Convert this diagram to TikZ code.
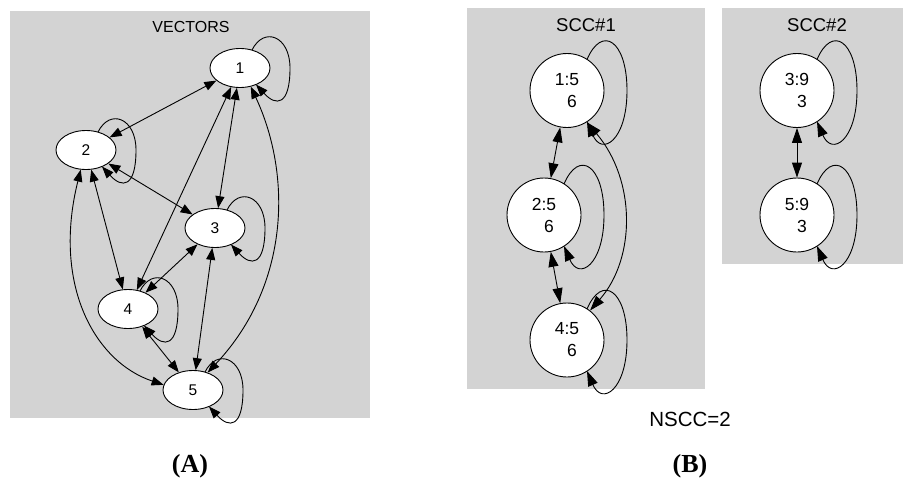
\documentclass[tikz,border=0pt]{standalone}
\usepackage{fontspec}
\setmainfont{Liberation Sans}
\newfontfamily\capfont{Liberation Serif}
\usetikzlibrary{shapes.geometric,arrows.meta,calc}
\definecolor{panelgrey}{RGB}{211,211,211}
\tikzset{
  panel/.style={fill=panelgrey,draw=none},
  vnode/.style={ellipse,draw=black,fill=white,line width=0.9pt,minimum width=60pt,minimum height=39pt,inner sep=0pt,font=\fontsize{15.5}{18}\selectfont},
  snode/.style={circle,draw=black,fill=white,line width=0.9pt,minimum size=74pt,inner sep=0pt,align=center,font=\fontsize{17.5}{22}\selectfont},
  titleA/.style={font=\fontsize{16}{18}\selectfont},
  titleB/.style={font=\fontsize{18.5}{22}\selectfont},
  caption/.style={font=\capfont\bfseries\fontsize{26}{30}\selectfont},
  tipA/.tip={Triangle[length=12pt,width=9pt]},
  tipB/.tip={Triangle[length=15pt,width=10pt]},
  edgeA/.style={line width=0.9pt,tipA-tipA},
  loopA/.style={line width=0.9pt,-tipA},
  edgeB/.style={line width=0.9pt,tipB-tipB},
  loopB/.style={line width=0.9pt,-tipB}
}
\newcommand\selfloopA[1]{\draw[loopA] ([shift={(12,18)}]#1.center) .. controls +(12,24) and +(0,32) .. ([shift={(50,0)}]#1.center) .. controls +(0,-38) and +(20,-22) .. ([shift={(16,-16.5)}]#1.center);}
\newcommand\selfloopB[1]{\draw[loopB] ([shift={(20,31)}]#1.center) .. controls +(15,35) and +(0,50) .. ([shift={(60,0)}]#1.center) .. controls +(0,-50) and +(15,-35) .. ([shift={(20,-31)}]#1.center);}
\begin{document}
\begin{tikzpicture}[x=1pt,y=1pt]
\useasboundingbox (0,0) rectangle (903,-479);
% panels
\fill[panel] (10,-11) rectangle (370,-418);
\fill[panel] (467,-8) rectangle (705,-389);
\fill[panel] (722,-8) rectangle (903,-264);
% panel A
\node[titleA] (tA) at (191,-26.5) {VECTORS};
\node[vnode] (v1) at (240,-68) {1};
\node[vnode] (v2) at (86,-150) {2};
\node[vnode] (v3) at (215,-228) {3};
\node[vnode] (v4) at (128,-309) {4};
\node[vnode] (v5) at (193,-390) {5};
\draw[edgeA] (v1) -- (v2);
\draw[edgeA] (v1) -- (v3);
\draw[edgeA] (v1) -- (v4);
\draw[edgeA] (v2) -- (v3);
\draw[edgeA] (v2) -- (v4);
\draw[edgeA] (v3) -- (v4);
\draw[edgeA] (v3) -- (v5);
\draw[edgeA] (v4) -- (v5);
\draw[edgeA] (v2.-105) .. controls (52,-285) and (95,-362) .. (v5.170);
\draw[edgeA] (v1.-60) .. controls (292,-175) and (290,-285) .. (v5.50);
\selfloopA{v1}
\selfloopA{v2}
\selfloopA{v3}
\selfloopA{v4}
\selfloopA{v5}
\node[caption] (capA) at (190,-466) {(A)};
% panel B
\node[titleB] (t1) at (586,-25) {SCC\#1};
\node[titleB] (t2) at (817,-25) {SCC\#2};
\node[snode] (s1) at (567,-90.5) {1:5\\\hspace*{10pt}6};
\node[snode] (s2) at (544,-215) {2:5\\\hspace*{10pt}6};
\node[snode] (s4) at (567,-340) {4:5\\\hspace*{10pt}6};
\node[snode] (s3) at (797,-90.5) {3:9\\\hspace*{10pt}3};
\node[snode] (s5) at (797,-215) {5:9\\\hspace*{10pt}3};
\draw[edgeB] (s1) -- (s2);
\draw[edgeB] (s2) -- (s4);
\draw[edgeB] (s3) -- (s5);
\draw[edgeB] (s1.-58) .. controls (636,-180) and (636,-258) .. (s4.52);
\selfloopB{s1}
\selfloopB{s2}
\selfloopB{s4}
\selfloopB{s3}
\selfloopB{s5}
\node[font=\fontsize{20.5}{24}\selectfont] (nscc) at (690,-419) {NSCC=2};
\node[caption] (capB) at (690,-466) {(B)};
\end{tikzpicture}
\end{document}
